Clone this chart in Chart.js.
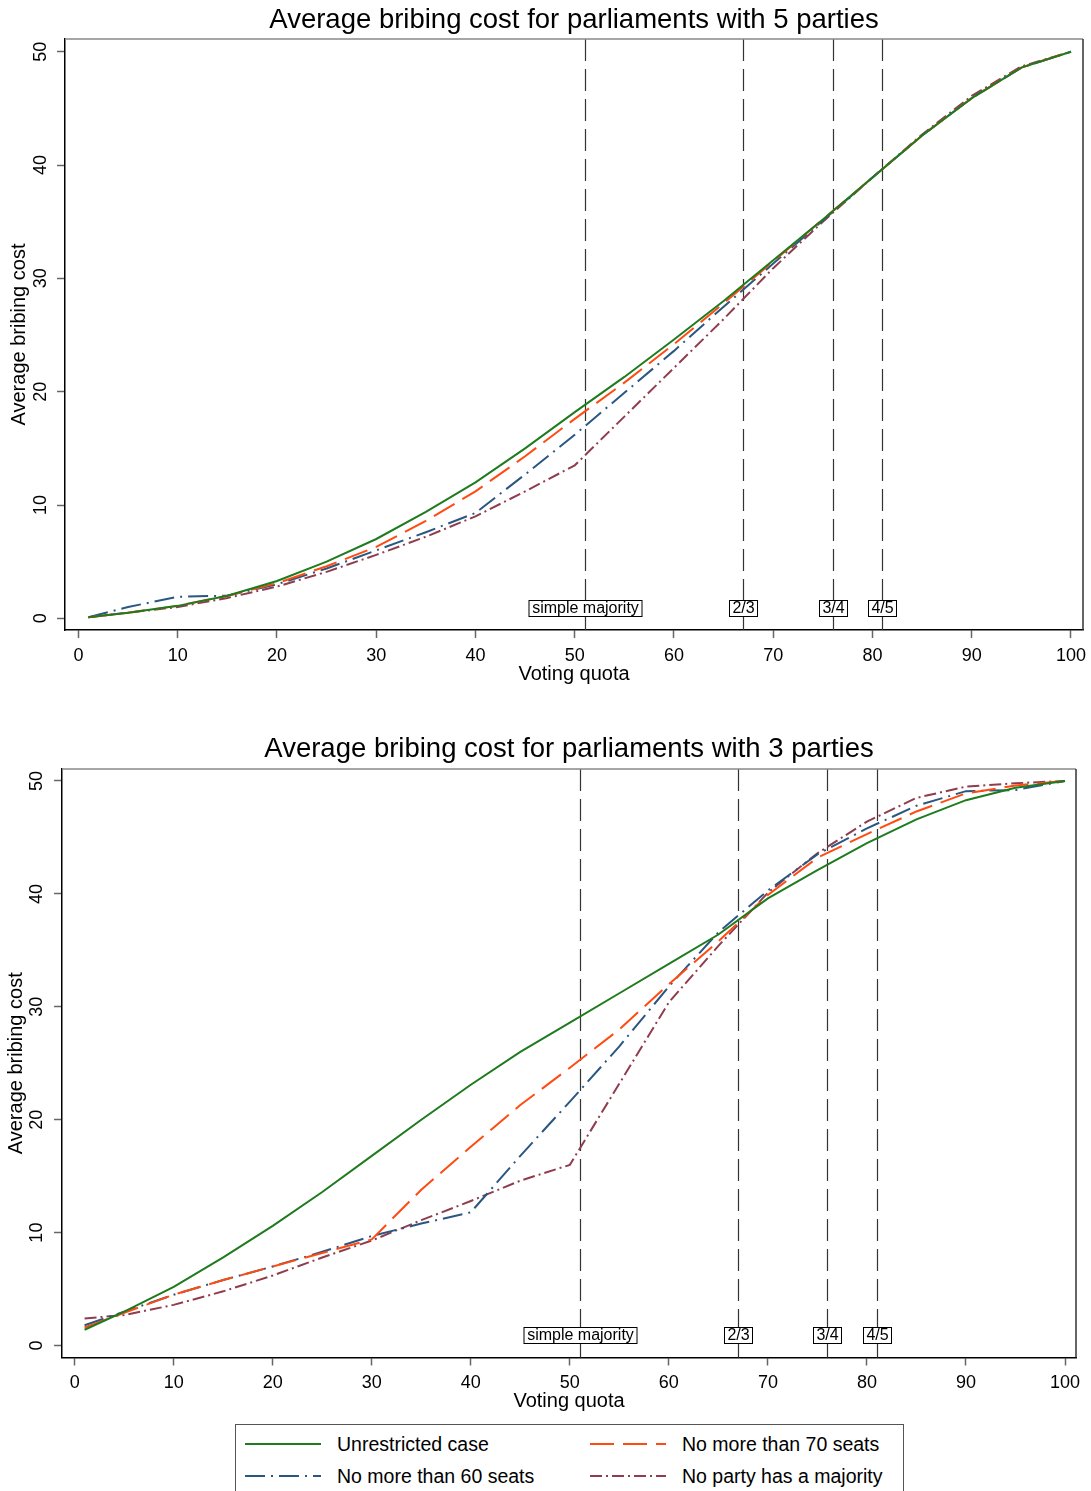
<!DOCTYPE html>
<html>
<head>
<meta charset="utf-8">
<script src="https://cdn.jsdelivr.net/npm/chart.js@4.4.1/dist/chart.umd.min.js"></script>
<style>
  body { margin: 0; background: #fff; width: 1091px; height: 1491px; position: relative; overflow: hidden;
         font-family: "Liberation Sans", Arial, sans-serif; }
  canvas { position: absolute; left: 0; }
  #c5 { top: 0; }
  #c3 { top: 700px; }
  #legend { position: absolute; left: 235px; top: 1424px; width: 669px; height: 80px; box-sizing: border-box;
            border: 1px solid #555; padding: 3px 0 0 9px; display: grid; grid-template-columns: 345px 300px;
            grid-auto-rows: 32px; }
  .item { display: flex; align-items: center; font-size: 19.5px; color: #000; }
  .item svg { margin-right: 16px; flex: none; }
</style>
</head>
<body>
<canvas id="c5" width="1091" height="700"></canvas>
<canvas id="c3" width="1091" height="720"></canvas>
<div id="legend"></div>
<script>
// voting quota (x) where the curves were read
const quota = [1, 5, 10, 15, 20, 25, 30, 35, 40, 45, 50, 55, 60, 65, 70, 75, 80, 85, 90, 95, 100];

// 5 parties
const unres5   = [0.1, 0.5, 1.1, 2.0, 3.3, 5.0, 7.0, 9.4, 12.0, 15.0, 18.2, 21.3, 24.6, 28.0, 31.6, 35.2, 38.9, 42.6, 45.9, 48.6, 50.0];
const seats70_5 = [0.1, 0.5, 1.1, 2.0, 3.1, 4.6, 6.3, 8.6, 11.2, 14.3, 17.6, 20.8, 24.2, 27.8, 31.5, 35.2, 38.9, 42.6, 45.9, 48.6, 50.0];
const seats60_5 = [0.1, 1.0, 1.9, 2.0, 3.0, 4.4, 6.0, 7.6, 9.3, 12.7, 16.2, 19.9, 23.6, 27.5, 31.3, 35.1, 38.9, 42.6, 45.9, 48.6, 50.0];
const noMaj5   = [0.1, 0.5, 1.0, 1.8, 2.8, 4.1, 5.6, 7.2, 9.0, 11.2, 13.5, 17.8, 22.1, 26.4, 30.9, 35.0, 38.9, 42.7, 46.1, 48.7, 50.0];

// 3 parties
const unres3   = [1.4, 3.0, 5.2, 7.8, 10.6, 13.6, 16.8, 20.0, 23.1, 26.0, 28.6, 31.2, 33.8, 36.4, 39.6, 42.1, 44.5, 46.6, 48.3, 49.4, 50.0];
const seats70_3 = [1.6, 2.9, 4.5, 5.8, 7.0, 8.2, 9.4, 13.8, 17.6, 21.3, 24.6, 28.0, 32.0, 35.8, 39.9, 43.2, 45.3, 47.3, 48.9, 49.6, 50.0];
const seats60_3 = [1.8, 3.0, 4.5, 5.8, 7.0, 8.3, 9.7, 10.8, 11.8, 16.8, 21.6, 26.5, 31.8, 36.6, 40.3, 43.5, 45.8, 47.8, 49.1, 49.2, 50.0];
const noMaj3   = [2.4, 2.7, 3.6, 4.8, 6.2, 7.8, 9.3, 11.1, 12.8, 14.6, 16.0, 23.2, 30.4, 35.4, 40.1, 43.6, 46.4, 48.5, 49.5, 49.8, 50.0];

const seriesNames = ['Unrestricted case', 'No more than 70 seats', 'No more than 60 seats', 'No party has a majority'];
const xTicks = [0, 10, 20, 30, 40, 50, 60, 70, 80, 90, 100];
const yTicks = [0, 10, 20, 30, 40, 50];
const quotaLines = [51, 67, 76, 81];
const quotaLabels = ['simple majority', '2/3', '3/4', '4/5'];

const lineColors = ['#1e7b1e', '#ff4b12', '#2a5782', '#8f3d4e'];
const lineDashes = [[], [24, 9], [20, 6, 2, 6], [12, 4, 2, 4]];

Chart.defaults.font.family = '"Liberation Sans", Arial, sans-serif';
Chart.defaults.color = '#000';

// dashed reference lines with boxed labels, plus the frame on top and right
const quotaPlugin = {
    id: 'quotaLines',
    beforeDatasetsDraw(chart) {
        const { ctx, chartArea: a, scales: { x, y } } = chart;
        ctx.save();
        ctx.strokeStyle = '#333';
        ctx.lineWidth = 1.2;
        ctx.setLineDash([22, 8]);
        quotaLines.forEach(q => {
            const px = Math.round(x.getPixelForValue(q)) + 0.5;
            ctx.beginPath();
            ctx.moveTo(px, a.top);
            ctx.lineTo(px, a.bottom);
            ctx.stroke();
        });
        ctx.setLineDash([]);
        ctx.font = '16px "Liberation Sans", Arial, sans-serif';
        ctx.textAlign = 'center';
        ctx.textBaseline = 'middle';
        const ly = Math.round(y.getPixelForValue(0.95));
        quotaLabels.forEach((t, i) => {
            const px = Math.round(x.getPixelForValue(quotaLines[i]));
            const w = Math.round(ctx.measureText(t).width + 6);
            ctx.fillStyle = '#fff';
            ctx.fillRect(px - w / 2, ly - 8, w, 16);
            ctx.strokeStyle = '#000';
            ctx.lineWidth = 1;
            ctx.strokeRect(px - w / 2 + 0.5, ly - 8 + 0.5, w, 16);
            ctx.fillStyle = '#000';
            ctx.fillText(t, px + 0.5, ly + 1);
        });
        ctx.restore();
    },
    afterDraw(chart) {
        const { ctx, chartArea: a } = chart;
        ctx.save();
        ctx.lineWidth = 1.5;
        ctx.strokeStyle = '#888';
        ctx.beginPath();
        ctx.moveTo(a.left, a.top);
        ctx.lineTo(a.right, a.top);
        ctx.stroke();
        ctx.strokeStyle = '#333';
        ctx.beginPath();
        ctx.moveTo(a.right, a.top);
        ctx.lineTo(a.right, a.bottom);
        ctx.stroke();
        ctx.restore();
    }
};

function makeChart(id, titleText, series, geo) {
    return new Chart(document.getElementById(id), {
        type: 'line',
        data: {
            datasets: series.map((vals, i) => ({
                label: seriesNames[i],
                data: quota.map((q, k) => ({ x: q, y: vals[k] })),
                borderColor: lineColors[i],
                borderDash: lineDashes[i],
                borderWidth: 2,
                pointRadius: 0,
                tension: 0,
                fill: false
            }))
        },
        options: {
            responsive: false,
            animation: false,
            layout: { padding: { left: 0, right: geo.padRight, top: 0, bottom: 0 } },
            plugins: {
                legend: { display: false },
                tooltip: { enabled: false },
                title: {
                    display: true, text: titleText, fullSize: false, color: '#000',
                    font: { size: 27.5, weight: 'normal' },
                    padding: { top: geo.titleTop, bottom: geo.titleBottom }
                }
            },
            scales: {
                x: {
                    type: 'linear', min: geo.xMin, max: geo.xMax,
                    afterBuildTicks: s => { s.ticks = xTicks.map(v => ({ value: v })); },
                    afterFit: s => { s.height = geo.xHeight; s.paddingLeft = 0; s.paddingRight = 0; },
                    grid: { drawOnChartArea: false, drawTicks: true, tickLength: 8, tickWidth: 1.5, tickColor: '#666' },
                    border: { color: '#000', width: 1.5 },
                    ticks: { font: { size: 18 }, color: '#000', padding: 7, autoSkip: false, maxRotation: 0 },
                    title: { display: true, text: 'Voting quota', font: { size: 20 }, color: '#000',
                             padding: { top: 0, bottom: geo.xTitlePad } }
                },
                y: {
                    type: 'linear', min: geo.yMin, max: geo.yMax,
                    afterBuildTicks: s => { s.ticks = yTicks.map(v => ({ value: v })); },
                    afterFit: s => { s.width = geo.yWidth; s.paddingTop = 0; s.paddingBottom = 0; },
                    grid: { drawOnChartArea: false, drawTicks: true, tickLength: 8, tickWidth: 1.5, tickColor: '#666' },
                    border: { color: '#000', width: 1.5 },
                    ticks: { font: { size: 18 }, color: '#000', padding: geo.yTickPad, minRotation: 90, maxRotation: 90,
                             crossAlign: 'center', autoSkip: false },
                    title: { display: true, text: 'Average bribing cost', font: { size: 20 }, color: '#000',
                             padding: { top: geo.yTitlePad, bottom: 0 } }
                }
            }
        },
        plugins: [quotaPlugin]
    });
}

const chart5 = makeChart('c5', 'Average bribing cost for parliaments with 5 parties',
    [unres5, seats70_5, seats60_5, noMaj5],
    { xMin: -1.36, xMax: 101.21, yMin: -1.03, yMax: 51.12, yWidth: 65, padRight: 8, xHeight: 70,
      titleTop: 3.5, titleBottom: 2.5, xTitlePad: 14, yTitlePad: 7, yTickPad: 5.5 });

makeChart('c3', 'Average bribing cost for parliaments with 3 parties',
    [unres3, seats70_3, seats60_3, noMaj3],
    { xMin: -1.28, xMax: 101.11, yMin: -1.06, yMax: 51.06, yWidth: 62, padRight: 15, xHeight: 62.5,
      titleTop: 32.5, titleBottom: 3.5, xTitlePad: 7, yTitlePad: 4, yTickPad: 6.5 });

// shared legend, two columns: green / orange on the first row, blue / red on the second
const legend = document.getElementById('legend');
chart5.data.datasets.forEach(ds => {
    const item = document.createElement('div');
    item.className = 'item';
    const dash = ds.borderDash.length ? ds.borderDash.join(' ') : 'none';
    item.innerHTML = '<svg width="76" height="4"><line x1="0" y1="2" x2="76" y2="2" stroke="' + ds.borderColor +
        '" stroke-width="2" stroke-dasharray="' + dash + '"/></svg><span>' + ds.label + '</span>';
    legend.appendChild(item);
});
</script>
</body>
</html>
